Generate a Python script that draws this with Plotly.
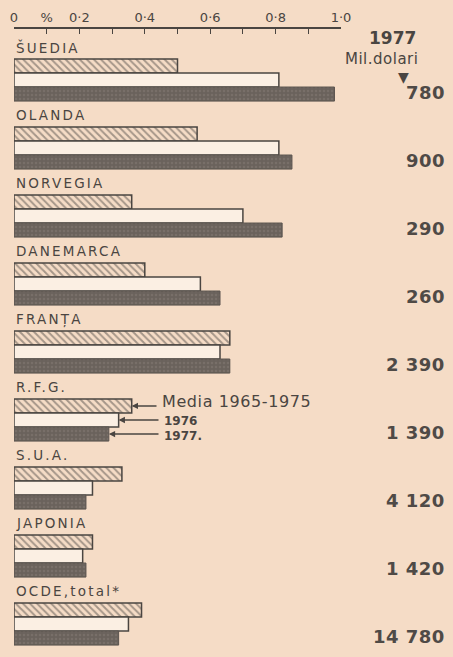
import plotly.graph_objects as go

countries = ["ŠUEDIA", "OLANDA", "NORVEGIA", "DANEMARCA", "FRANȚA", "R.F.G.", "S.U.A.", "JAPONIA", "OCDE,total*"]
media_1965_1975 = [0.50, 0.56, 0.36, 0.40, 0.66, 0.36, 0.33, 0.24, 0.39]
val_1976 = [0.81, 0.81, 0.70, 0.57, 0.63, 0.32, 0.24, 0.21, 0.35]
val_1977 = [0.98, 0.85, 0.82, 0.63, 0.66, 0.29, 0.22, 0.22, 0.32]
mil_dolari_1977 = ["780", "900", "290", "260", "2 390", "1 390", "4 120", "1 420", "14 780"]
tick_vals = [0, 0.1, 0.2, 0.3, 0.4, 0.5, 0.6, 0.7, 0.8, 0.9, 1.0]
tick_text = ["0", "%", "0·2", "", "0·4", "", "0·6", "", "0·8", "", "1·0"]

W, H = 453, 657
ML, MT = 14, 29
PW = 327
PH = H - MT

BG = "#f5dcc6"
INK = "#4a4541"

# layout helpers (pixel-based plot units on y)
y0 = 51
step = 68
ypos = [y0 + i * step for i in range(len(countries))]

def px_to_x(px):
    return (px - ML) / PW

def px_to_yp(px):
    return 1 - (px - MT) / PH

def spaced(t, sp):
    return '<span style="letter-spacing:%spx">%s</span>' % (sp, t)

fig = go.Figure()
fig.add_trace(go.Bar(
    y=ypos, x=media_1965_1975, orientation="h", name="Media 1965-1975",
    marker=dict(color=BG, line=dict(color=INK, width=1.5),
                pattern=dict(shape="\\", fgcolor="#55504b", bgcolor=BG, size=5, solidity=0.4)),
))
fig.add_trace(go.Bar(
    y=ypos, x=val_1976, orientation="h", name="1976",
    marker=dict(color="#fbefe3", line=dict(color=INK, width=1.5)),
))
fig.add_trace(go.Bar(
    y=ypos, x=val_1977, orientation="h", name="1977",
    marker=dict(color="#6a625c", line=dict(color="#5a534e", width=1),
                pattern=dict(shape=".", fgcolor="#857c75", bgcolor="#6a625c", size=4, solidity=0.3)),
))

ann = []
for c, yc in zip(countries, ypos):
    ann.append(dict(x=0, y=yc - 33, text=spaced(c, 2.2), showarrow=False, xanchor="left", yanchor="middle",
                    font=dict(family="DejaVu Sans", size=13.5, color=INK)))
for v, yc in zip(mil_dolari_1977, ypos):
    ann.append(dict(xref="paper", x=px_to_x(447), y=yc + 12, text=spaced(v, 0.5), showarrow=False,
                    xanchor="right", yanchor="middle",
                    font=dict(family="DejaVu Sans", size=18, color="#4f4a46", weight="bold")))

# header on the right
ann.append(dict(xref="paper", yref="paper", x=px_to_x(392), y=px_to_yp(38), text="<b>1977</b>",
                showarrow=False, xanchor="center", yanchor="middle",
                font=dict(family="DejaVu Sans", size=17, color=INK)))
ann.append(dict(xref="paper", yref="paper", x=px_to_x(381), y=px_to_yp(59), text=spaced("Mil.dolari", 0.5),
                showarrow=False, xanchor="center", yanchor="middle",
                font=dict(family="DejaVu Sans", size=15, color=INK)))
ann.append(dict(xref="paper", yref="paper", x=px_to_x(403), y=px_to_yp(77), text="▼",
                showarrow=False, xanchor="center", yanchor="middle",
                font=dict(family="DejaVu Sans", size=14, color=INK)))

# legend arrows on R.F.G.
i = countries.index("R.F.G.")
bw = step * (1 - 0.38) / 3
yc = ypos[i]
rows = [(media_1965_1975[i], yc - bw, px_to_x(158), "Media 1965-1975", 16, False, -4, 0.6),
        (val_1976[i], yc, px_to_x(160), "1976", 12, True, 1, 0),
        (val_1977[i], yc + bw, px_to_x(160), "1977.", 12, True, 2, 0)]
for xv, yy, xt, txt, fs, bold, dy, sp in rows:
    ann.append(dict(x=xv, y=yy, ax=xt, ay=yy, axref="x", ayref="y", text="", showarrow=True,
                    arrowhead=2, arrowsize=0.9, arrowwidth=1.4, arrowcolor=INK))
    ann.append(dict(x=xt + 0.005, y=yy + dy, text=spaced(("<b>%s</b>" % txt) if bold else txt, sp),
                    showarrow=False, xanchor="left", yanchor="middle",
                    font=dict(family="DejaVu Sans", size=fs, color=INK)))

fig.update_layout(
    width=W, height=H,
    margin=dict(l=ML, r=W - ML - PW, t=MT, b=0),
    paper_bgcolor=BG, plot_bgcolor=BG,
    barmode="group", bargap=0.38, bargroupgap=0,
    showlegend=False,
    annotations=ann,
    xaxis=dict(range=[0, 1], side="top", tickvals=tick_vals, ticktext=tick_text,
               ticks="inside", ticklen=5, tickwidth=1.4, tickcolor=INK,
               showline=True, linecolor=INK, linewidth=1.6, showgrid=False, zeroline=False,
               tickfont=dict(family="DejaVu Sans", size=13, color=INK), fixedrange=True),
    yaxis=dict(range=[PH, 0], visible=False, showgrid=False, zeroline=False, fixedrange=True),
)

fig.write_html("out.html", config={"displayModeBar": False},
               post_script="document.body.style.margin='0';document.body.style.overflow='hidden';document.body.style.background='%s';" % BG)
